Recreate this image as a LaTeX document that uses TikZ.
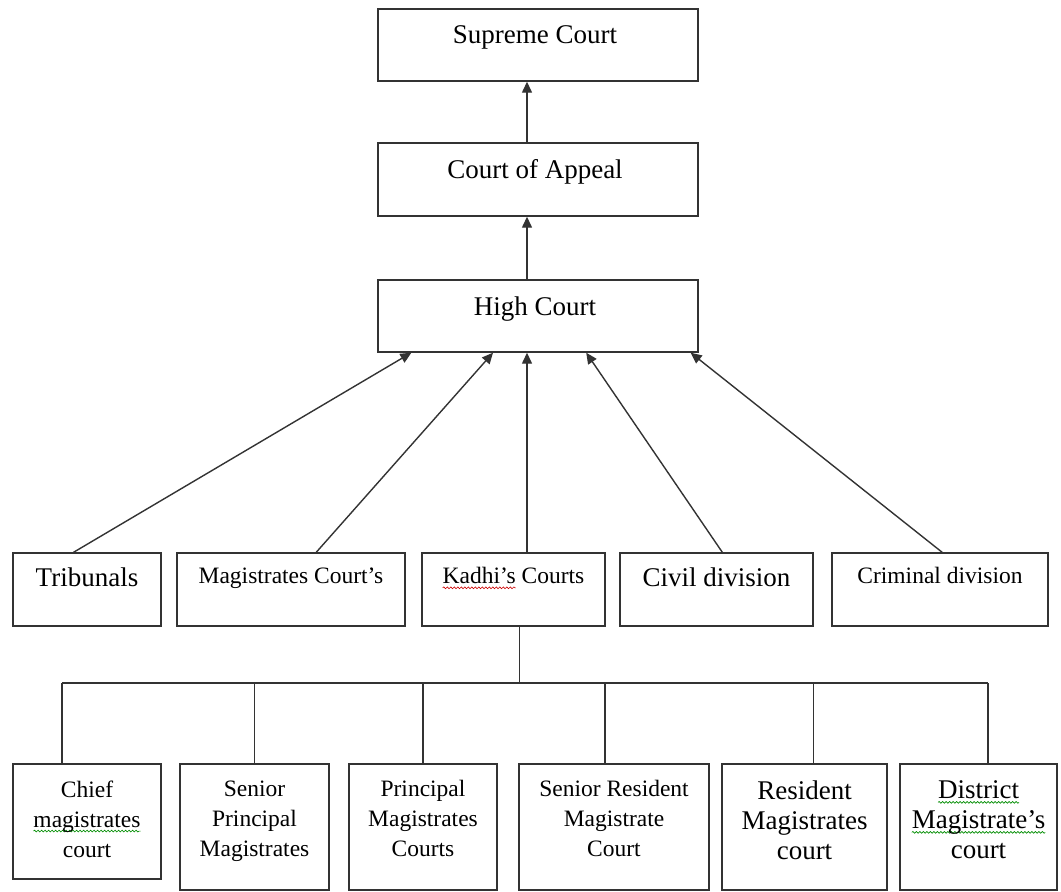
\documentclass[tikz,border=0pt]{standalone}
\usepackage{fontspec}
\setmainfont{Liberation Serif}
\usetikzlibrary{arrows.meta, calc, decorations.pathmorphing}

% wavy spell-check underline
\newsavebox\wavebox
\newdimen\wavewd
\newcommand\spellwave[2]{\sbox\wavebox{#2}\wavewd=\wd\wavebox
  \rlap{\tikz[overlay]\draw[#1, line width=0.6pt, decorate,
    decoration={snake, amplitude=0.9pt, segment length=3.5pt}] (0pt,-4pt) -- (\the\wavewd,-4pt);}%
  \usebox\wavebox}

\tikzset{
  court/.style={draw=black!80, line width=1.4pt, inner sep=0pt},
  courtname/.style={anchor=north, align=center, inner sep=0pt, font=\fontsize{27}{30}\selectfont},
  courtsmall/.style={courtname, font=\fontsize{23.5}{30}\selectfont},
  wire/.style={draw=black!80, line width=1.4pt},
  up/.style={wire, -{Triangle[length=11pt,width=10pt]}},
}

\begin{document}
\begin{tikzpicture}[x=1pt, y=-1pt]
  \useasboundingbox (0,0) rectangle (1061,892);

  % upper courts
  \node[court, minimum width=320pt, minimum height=72pt] (supreme) at (538,45) {};
  \node[court, minimum width=320pt, minimum height=73pt] (appeal) at (538,179.5) {};
  \node[court, minimum width=320pt, minimum height=72pt] (high) at (538,316) {};
  \node[courtname] (supremeT) at ([xshift=-3pt,yshift=-17pt]supreme.north) {Supreme Court};
  \node[courtname] (appealT) at ([xshift=-3pt,yshift=-17pt]appeal.north) {Court of Appeal};
  \node[courtname] (highT) at ([xshift=-3pt,yshift=-17pt]high.north) {High Court};

  % middle row
  \node[court, minimum width=148pt, minimum height=73pt] (trib) at (87,589.5) {};
  \node[court, minimum width=228pt, minimum height=73pt] (magis) at (291,589.5) {};
  \node[court, minimum width=183pt, minimum height=73pt] (kadhi) at (513.5,589.5) {};
  \node[court, minimum width=193pt, minimum height=73pt] (civil) at (716.5,589.5) {};
  \node[court, minimum width=216pt, minimum height=73pt] (crim) at (940,589.5) {};
  \node[courtname] (tribT) at ([yshift=-15pt]trib.north) {Tribunals};
  \node[courtsmall] (magisT) at ([yshift=-15pt]magis.north) {Magistrates Court’s};
  \node[courtsmall] (kadhiT) at ([yshift=-15pt]kadhi.north) {\spellwave{red!80!black}{Kadhi’s} Courts};
  \node[courtname] (civilT) at ([yshift=-15pt]civil.north) {Civil division};
  \node[courtsmall] (crimT) at ([yshift=-15pt]crim.north) {Criminal division};

  % lower courts
  \node[court, minimum width=148pt, minimum height=115pt] (chief) at (87,821.5) {};
  \node[court, minimum width=149pt, minimum height=126pt] (senprin) at (254.5,827) {};
  \node[court, minimum width=148pt, minimum height=126pt] (prin) at (423,827) {};
  \node[court, minimum width=190pt, minimum height=126pt] (senres) at (614,827) {};
  \node[court, minimum width=165pt, minimum height=126pt] (res) at (804.5,827) {};
  \node[court, minimum width=157pt, minimum height=126pt] (dist) at (978.5,827) {};
  \node[courtsmall] (chiefT) at ([yshift=-17pt]chief.north) {Chief\\\spellwave{green!55!black}{magistrates}\\court};
  \node[courtsmall] (senprinT) at ([yshift=-17pt]senprin.north) {Senior\\Principal\\Magistrates};
  \node[courtsmall] (prinT) at ([yshift=-17pt]prin.north) {Principal\\Magistrates\\Courts};
  \node[courtsmall] (senresT) at ([yshift=-17pt]senres.north) {Senior Resident\\Magistrate\\Court};
  \node[courtname] (resT) at ([yshift=-17pt]res.north) {Resident\\Magistrates\\court};
  \node[courtname] (distT) at ([yshift=-17pt]dist.north) {\spellwave{green!55!black}{District}\\\spellwave{green!55!black}{Magistrate’s}\\court};

  % appeals upwards
  \draw[up] ([xshift=-11pt]appeal.north) -- ([xshift=-11pt]supreme.south);
  \draw[up] ([xshift=-11pt]high.north) -- ([xshift=-11pt]appeal.south);
  \draw[up] ($(trib.north west)!0.41!(trib.north east)$) -- ($(high.south west)!0.106!(high.south east)$);
  \draw[up] ($(magis.north west)!0.61!(magis.north east)$) -- ($(high.south west)!0.36!(high.south east)$);
  \draw[up] ([xshift=-11pt]high.south |- kadhi.north) -- ([xshift=-11pt]high.south);
  \draw[up] ($(civil.north west)!0.53!(civil.north east)$) -- ($(high.south west)!0.65!(high.south east)$);
  \draw[up] ($(crim.north west)!0.51!(crim.north east)$) -- ($(high.south west)!0.975!(high.south east)$);

  % tree below Kadhi's courts
  \coordinate (busL) at (62,683);
  \coordinate (busR) at (988,683);
  \draw[wire] ([xshift=6pt]kadhi.south) -- ([xshift=6pt]kadhi.south |- busL);
  \draw[wire] (busL) -- (busR);
  \draw[wire] (busL) -- (busL |- chief.north);
  \foreach \n in {senprin, prin}
    \draw[wire] (\n.north |- busL) -- (\n.north);
  \draw[wire] ([xshift=-9pt]senres.north |- busL) -- ([xshift=-9pt]senres.north);
  \draw[wire] ([xshift=9pt]res.north |- busL) -- ([xshift=9pt]res.north);
  \draw[wire] (busR) -- (busR |- dist.north);
\end{tikzpicture}
\end{document}
